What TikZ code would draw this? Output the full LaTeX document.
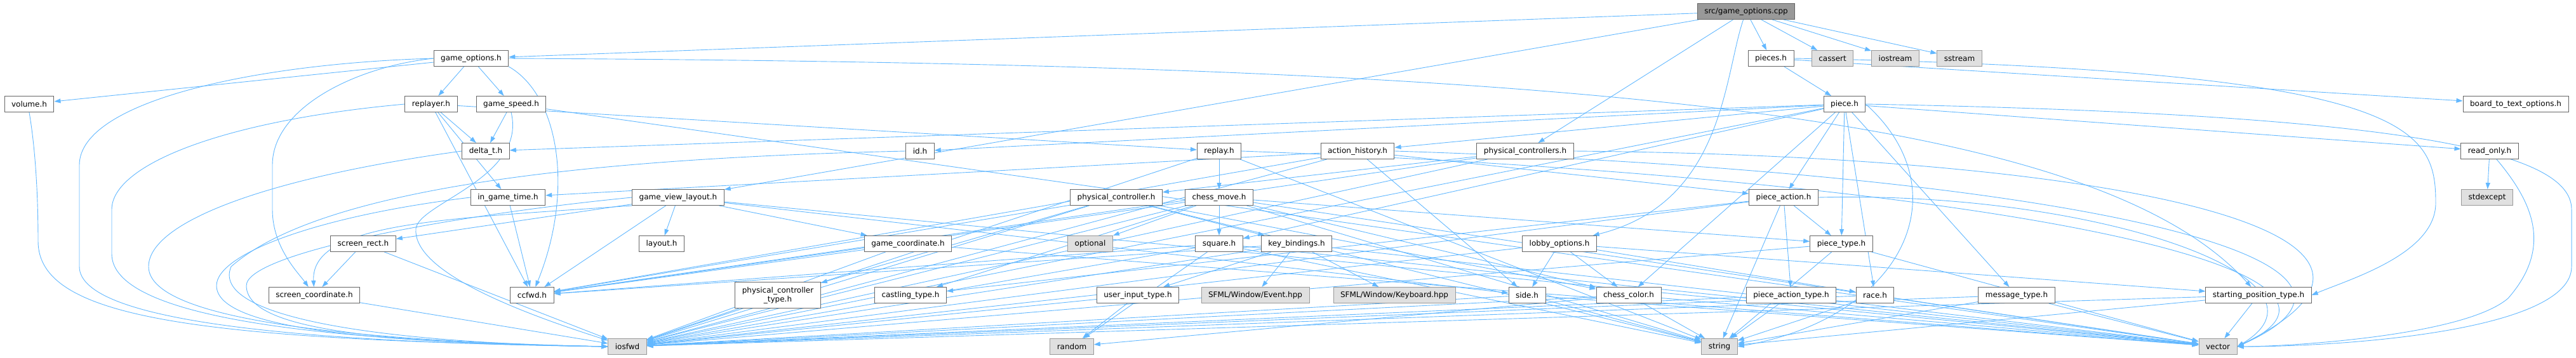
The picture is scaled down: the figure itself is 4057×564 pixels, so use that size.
\documentclass[tikz,border=0pt]{standalone}
\usepackage{fontspec}
\setmainfont{DejaVu Sans}
\usetikzlibrary{arrows.meta,backgrounds}

\definecolor{edgeblue}{HTML}{63B8FF}
\definecolor{boxline}{HTML}{666666}
\definecolor{sysline}{HTML}{999999}
\definecolor{sysfill}{HTML}{E0E0E0}
\definecolor{rootfill}{HTML}{999999}

\tikzset{
  file/.style={draw=boxline, fill=white, line width=1pt, inner xsep=11pt, inner ysep=0pt,
    minimum height=25pt, font=\fontsize{12}{14}\selectfont},
  sysfile/.style={file, draw=sysline, fill=sysfill},
  rootfile/.style={file, fill=rootfill},
  incl/.style={draw=edgeblue, line width=0.9pt, -{Triangle[length=10pt,width=7pt]}}
}

\begin{document}
\begin{tikzpicture}[x=1pt,y=-1pt]
\useasboundingbox (0,0) rectangle (4057,564);

% row 0 and 1
\node[rootfile] (root) at (2750,18) {src/game\_options.cpp};
\node[file] (gopt) at (742,92) {game\_options.h};
\node[file] (pieces) at (2789,92) {pieces.h};
\node[sysfile] (cassert) at (2886,92) {cassert};
\node[sysfile] (iostream) at (2985,92) {iostream};
\node[sysfile] (sstream) at (3086,92) {sstream};

% row 2
\node[file] (vol) at (46,164) {volume.h};
\node[file] (replayer) at (679,164) {replayer.h};
\node[file] (gspeed) at (805,164) {game\_speed.h};
\node[file] (piece) at (2905,164) {piece.h};
\node[file] (b2t) at (3962,164) {board\_to\_text\_options.h};

% row 3
\node[file] (deltat) at (765,238) {delta\_t.h};
\node[file] (idh) at (1449,238) {id.h};
\node[file] (replay) at (1920,238) {replay.h};
\node[file] (acthist) at (2138,238) {action\_history.h};
\node[file] (pctrls) at (2402,238) {physical\_controllers.h};
\node[file] (readonly) at (3921,238) {read\_only.h};

% row 4
\node[file] (inttime) at (800,311) {in\_game\_time.h};
\node[file] (gvl) at (1068,311) {game\_view\_layout.h};
\node[file] (pctrl) at (1758,311) {physical\_controller.h};
\node[file] (cmove) at (1920,311) {chess\_move.h};
\node[file] (paction) at (2809,311) {piece\_action.h};
\node[sysfile] (stdexcept) at (3917,311) {stdexcept};

% row 5
\node[file] (scrrect) at (572,384) {screen\_rect.h};
\node[file] (layout) at (1042,384) {layout.h};
\node[file] (gcoord) at (1430,384) {game\_coordinate.h};
\node[sysfile] (optional) at (1717,384) {optional};
\node[file] (square) at (1920,384) {square.h};
\node[file] (keyb) at (2042,384) {key\_bindings.h};
\node[file] (lobby) at (2456,384) {lobby\_options.h};
\node[file] (ptype) at (2900,384) {piece\_type.h};

% row 6
\node[file] (scrcoord) at (495,465) {screen\_coordinate.h};
\node[file] (ccfwd) at (838,465) {ccfwd.h};
\node[file, align=center, minimum height=41pt] (pctype) at (1225,465) {physical\_controller\\\_type.h};
\node[file] (castling) at (1434,465) {castling\_type.h};
\node[file] (uitype) at (1792,465) {user\_input\_type.h};
\node[sysfile] (sfevent) at (1977,465) {SFML/Window/Event.hpp};
\node[sysfile] (sfkey) at (2196,465) {SFML/Window/Keyboard.hpp};
\node[file] (side) at (2405,465) {side.h};
\node[file] (color) at (2565,465) {chess\_color.h};
\node[file] (patype) at (2821,465) {piece\_action\_type.h};
\node[file] (race) at (2953,465) {race.h};
\node[file] (msgtype) at (3176,465) {message\_type.h};
\node[file] (sptype) at (3557,465) {starting\_position\_type.h};

% row 7
\node[sysfile] (iosfwd) at (988,546) {iosfwd};
\node[sysfile] (random) at (1688,546) {random};
\node[sysfile] (string) at (2708,546) {string};
\node[sysfile] (vector) at (3493,546) {vector};

\begin{scope}[on background layer]
\foreach \src/\dst in {root/gopt, root/gvl, root/pctrls, root/pieces, root/cassert,
    root/iostream, root/sstream, gopt/vol, gopt/replayer, gopt/gspeed,
    replayer/deltat, replayer/inttime, replayer/ccfwd, replayer/replay,
    gspeed/deltat, gspeed/vector, inttime/ccfwd,
    replay/cmove, replay/string, replay/iosfwd,
    acthist/inttime, acthist/paction, acthist/iosfwd, acthist/ccfwd, acthist/side,
    pctrls/pctrl, pctrls/iosfwd, pctrls/ccfwd,
    gvl/layout, gvl/scrrect, gvl/gcoord, gvl/ccfwd, gvl/side, gvl/vector,
    pctrl/pctype, pctrl/keyb, pctrl/ccfwd, pctrl/iosfwd, pctrl/string, pctrl/color,
    cmove/square, cmove/optional, cmove/castling, cmove/color, cmove/ptype,
    cmove/iosfwd, cmove/string, cmove/vector, cmove/ccfwd,
    scrrect/scrcoord, scrrect/iosfwd, scrcoord/iosfwd,
    gcoord/ccfwd, gcoord/iosfwd, gcoord/vector,
    square/ccfwd, square/iosfwd, square/random, square/string, square/vector,
    keyb/sfevent, keyb/sfkey, keyb/uitype, keyb/ccfwd, keyb/iosfwd, keyb/vector,
    uitype/random, uitype/iosfwd,
    lobby/side, lobby/color, lobby/iosfwd, lobby/race, lobby/sptype,
    side/iosfwd, side/string, side/vector,
    color/iosfwd, color/string, color/vector, color/random,
    pctype/iosfwd, pieces/piece, pieces/b2t,
    piece/acthist, piece/deltat, piece/idh, piece/paction, piece/ptype, piece/race,
    piece/msgtype, piece/readonly, piece/color, piece/square, piece/iosfwd,
    paction/ptype, paction/patype, paction/string, paction/iosfwd, paction/castling,
    ptype/iosfwd, ptype/string, ptype/vector,
    patype/iosfwd, patype/string, patype/vector,
    race/iosfwd, race/string, race/vector,
    msgtype/iosfwd, msgtype/string, msgtype/vector,
    sptype/iosfwd, sptype/string, sptype/vector,
    readonly/stdexcept}
  \draw[incl] (\src) -- (\dst);

% long curved includes
\draw[incl] (gopt.west) .. controls (400,100) and (125,160) .. (125,260) -- (125,420)
  .. controls (125,510) and (500,540) .. (iosfwd.west);
\draw[incl] (gopt.west) .. controls (560,105) and (429,170) .. (429,260) -- (429,330)
  .. controls (429,390) and (470,430) .. (scrcoord);
\draw[incl] (gopt.south east) .. controls (880,150) and (905,300) .. (ccfwd);
\draw[incl] (gopt.east) .. controls (2500,100) and (3300,180) .. (sptype);
\draw[incl] (vol.south) .. controls (55,230) and (60,300) .. (60,380)
  .. controls (60,500) and (300,535) .. (iosfwd.west);
\draw[incl] (replayer.west) .. controls (350,190) and (176,260) .. (176,330) -- (176,400)
  .. controls (176,500) and (500,538) .. (iosfwd.west);
\draw[incl] (deltat.west) .. controls (420,280) and (234,350) .. (234,420)
  .. controls (234,510) and (600,538) .. (iosfwd.west);
\draw[incl] (gspeed.south) .. controls (830,280) and (660,320) .. (655,360)
  .. controls (650,420) and (780,480) .. (iosfwd);
\draw[incl] (inttime.west) .. controls (500,340) and (341,400) .. (341,450)
  .. controls (341,520) and (600,540) .. (iosfwd.west);
\draw[incl] (idh.west) .. controls (900,250) and (500,300) .. (364,420)
  .. controls (330,500) and (600,540) .. (iosfwd.west);
\draw[incl] (gvl.west) .. controls (700,340) and (388,400) .. (388,450)
  .. controls (388,520) and (600,540) .. (iosfwd.west);
\draw[incl] (gvl.south west) .. controls (700,345) and (489,350) .. (scrcoord);
\draw[incl] (root) .. controls (2715,120) and (2715,320) .. (lobby);
\draw[incl] (pieces.east) .. controls (3800,110) and (3836,200) .. (3836,320)
  .. controls (3836,400) and (3700,440) .. (sptype.east);
\draw[incl] (piece.east) .. controls (3800,180) and (4050,240) .. (4050,330) -- (4050,420)
  .. controls (4050,520) and (3700,546) .. (vector.east);
\draw[incl] (readonly) .. controls (3990,320) and (4020,390) .. (3950,470)
  .. controls (3880,530) and (3600,546) .. (vector.east);
\draw[incl] (piece.east) .. controls (3090,300) and (3000,500) .. (string.east);
\draw[incl] (pctrls.east) .. controls (3300,245) and (3900,360) .. (vector.east);
\draw[incl] (acthist.east) .. controls (3200,270) and (3850,400) .. (vector.east);
\draw[incl] (replay.east) .. controls (3100,280) and (3800,420) .. (vector.east);
\draw[incl] (paction.east) .. controls (3300,300) and (3700,440) .. (vector.east);
\end{scope}
\end{tikzpicture}
\end{document}
